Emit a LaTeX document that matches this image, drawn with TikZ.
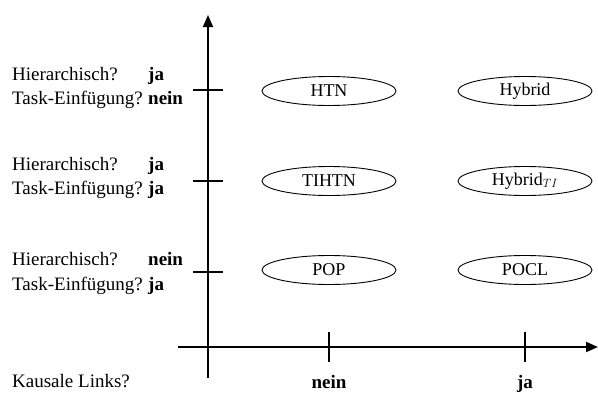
\documentclass[tikz,border=0pt]{standalone}
\usepackage{fontspec}
\setmainfont{Liberation Serif}
\usetikzlibrary{shapes.geometric,arrows.meta}
\begin{document}
\begin{tikzpicture}[x=1pt,y=-1pt,
  axis/.style={line width=1.9pt},
  vtick/.style={line width=1.5pt},
  htick/.style={line width=1.2pt},
  cls/.style={draw,ellipse,line width=0.9pt,minimum width=134pt,minimum height=29pt,inner sep=0pt,font=\fontsize{18}{20}\selectfont},
  lbl/.style={anchor=base west,inner sep=0pt,font=\fontsize{19}{22}\selectfont},
  val/.style={anchor=base west,inner sep=0pt,font=\fontsize{19}{22}\selectfont\bfseries},
  xval/.style={anchor=base,inner sep=0pt,font=\fontsize{19}{22}\selectfont\bfseries}]
\useasboundingbox (0,0) rectangle (598,394);

% axes
\coordinate (ybot) at (208,378);
\coordinate (ytop) at (208,15);
\coordinate (xleft) at (178,347);
\coordinate (xright) at (598,347);
\draw[axis,-{Triangle[length=12pt,width=10pt]}] (ybot) -- (ytop);
\draw[axis,-{Triangle[length=12pt,width=10pt]}] (xleft) -- (xright);

% ticks on the vertical axis
\foreach \n/\t in {a/90,b/181,c/272}{
  \coordinate (vt\n l) at (193,\t);
  \coordinate (vt\n r) at (223,\t);
  \draw[vtick] (vt\n l) -- (vt\n r);
}
% ticks on the horizontal axis
\foreach \n/\t in {a/329,b/525}{
  \coordinate (ht\n t) at (\t,332);
  \coordinate (ht\n b) at (\t,362);
  \draw[htick] (ht\n t) -- (ht\n b);
}

% row labels
\node[lbl] (h1) at (12,80) {Hierarchisch?};
\node[val] (h1v) at (148,80) {ja};
\node[lbl] (t1) at (12,104) {Task-Einfügung?};
\node[val] (t1v) at (148,104) {nein};

\node[lbl] (h2) at (12,170) {Hierarchisch?};
\node[val] (h2v) at (148,170) {ja};
\node[lbl] (t2) at (12,194) {Task-Einfügung?};
\node[val] (t2v) at (148,194) {ja};

\node[lbl] (h3) at (12,265) {Hierarchisch?};
\node[val] (h3v) at (148,265) {nein};
\node[lbl] (t3) at (12,290) {Task-Einfügung?};
\node[val] (t3v) at (148,290) {ja};

% column labels
\node[lbl] (kl) at (12,387) {Kausale Links?};
\node[xval] (cn) at (329,388) {nein};
\node[xval] (cj) at (525,388) {ja};

% planning formalisms
\node[cls] (htn) at (329,91) {HTN};
\node[cls] (hyb) at (525,91) {Hybrid};
\node[cls] (tihtn) at (329,181) {TIHTN};
\node[cls] (hybti) at (525,181) {Hybrid$_{TI}$};
\node[cls] (pop) at (329,270) {POP};
\node[cls] (pocl) at (525,270) {POCL};
\end{tikzpicture}
\end{document}
